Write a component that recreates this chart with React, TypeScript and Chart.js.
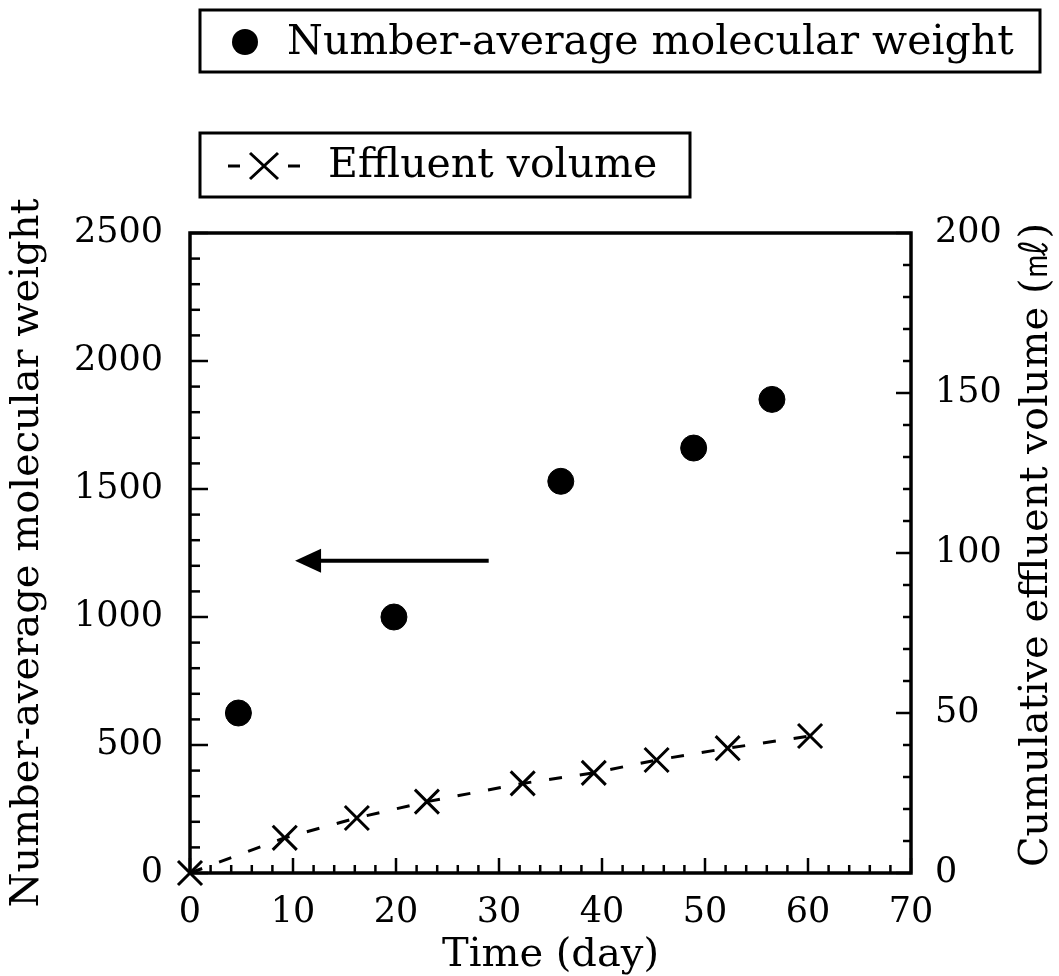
import React, { useEffect, useRef } from "react";
import { Chart, registerables } from "chart.js";

Chart.register(...registerables);

// ---- data ----
const mnTime = [4.7, 19.8, 36.0, 48.9, 56.5];
const mnValues = [625, 1000, 1530, 1660, 1850];
const volTime = [0, 9.2, 16.2, 23.0, 32.3, 39.2, 45.3, 52.2, 60.2];
const volValues = [0, 11, 17.2, 22.3, 28.0, 31.3, 35.3, 39.0, 42.8];

// ---- axes ----
const xRange = [0, 70];
const xMajorStep = 10;
const xMinorStep = 2;
const yRange = [0, 2500];
const yMajorStep = 500;
const yMinorStep = 100;
const y1Range = [0, 200];
const y1MajorStep = 50;
const y1MinorStep = 10;

// ---- text ----
const legendLabels = ["Number-average molecular weight", "Effluent volume"];
const xTitle = "Time (day)";
const yTitle = "Number-average molecular weight";
const y1Title = "Cumulative effluent volume (\u3396)";

// arrow annotation (data coordinates on left axis)
const arrowStart = [29.0, 1220];
const arrowEnd = [10.2, 1220];

const SERIF = '"DejaVu Serif", "Liberation Serif", serif';
const TICK_SIZE = 35;
const TITLE_SIZE = 40;
const LEGEND_SIZE = 41;

const framePlugin = {
  id: "frameTicks",
  beforeDatasetsDraw(chart: any) {
    const { ctx, chartArea: a, scales } = chart;
    const x = scales.x, y = scales.y, y1 = scales.y1;
    ctx.save();
    ctx.strokeStyle = "#000";
    ctx.lineCap = "butt";
    ctx.lineWidth = 2.5;
    for (let v = xRange[0]; v <= xRange[1]; v += xMinorStep) {
      const px = x.getPixelForValue(v);
      const len = v % xMajorStep === 0 ? 15 : 8;
      ctx.beginPath();
      ctx.moveTo(px, a.bottom);
      ctx.lineTo(px, a.bottom - len);
      ctx.stroke();
    }
    for (let v = yRange[0]; v <= yRange[1]; v += yMinorStep) {
      const py = y.getPixelForValue(v);
      const len = v % yMajorStep === 0 ? 18 : 10;
      ctx.beginPath();
      ctx.moveTo(a.left, py);
      ctx.lineTo(a.left + len, py);
      ctx.stroke();
    }
    for (let v = y1Range[0]; v <= y1Range[1]; v += y1MinorStep) {
      const py = y1.getPixelForValue(v);
      const len = v % y1MajorStep === 0 ? 15 : 8;
      ctx.beginPath();
      ctx.moveTo(a.right, py);
      ctx.lineTo(a.right - len, py);
      ctx.stroke();
    }
    ctx.lineWidth = 3.5;
    ctx.strokeRect(a.left, a.top, a.right - a.left, a.bottom - a.top);
    ctx.restore();
  },
  afterDatasetsDraw(chart: any) {
    const { ctx, scales } = chart;
    const x = scales.x, y = scales.y;
    const x0 = x.getPixelForValue(arrowStart[0]);
    const y0 = y.getPixelForValue(arrowStart[1]);
    const x1 = x.getPixelForValue(arrowEnd[0]);
    const y1p = y.getPixelForValue(arrowEnd[1]);
    ctx.save();
    ctx.strokeStyle = "#000";
    ctx.fillStyle = "#000";
    ctx.lineWidth = 4;
    ctx.beginPath();
    ctx.moveTo(x0, y0);
    ctx.lineTo(x1 + 20, y1p);
    ctx.stroke();
    ctx.beginPath();
    ctx.moveTo(x1, y1p);
    ctx.lineTo(x1 + 26, y1p - 12);
    ctx.lineTo(x1 + 26, y1p + 12);
    ctx.closePath();
    ctx.fill();
    ctx.restore();
  },
  afterDraw(chart: any) {
    const { ctx, chartArea: a } = chart;
    ctx.save();
    ctx.fillStyle = "#000";
    ctx.font = `${TITLE_SIZE}px ${SERIF}`;
    ctx.textAlign = "center";
    ctx.textBaseline = "middle";
    ctx.translate(1037, (a.top + a.bottom) / 2 - 8);
    ctx.rotate(-Math.PI / 2);
    ctx.fillText(y1Title, 0, 0);
    ctx.restore();

    ctx.save();
    ctx.strokeStyle = "#000";
    ctx.fillStyle = "#000";
    ctx.lineWidth = 3;
    ctx.strokeRect(200, 10, 840, 62);
    ctx.strokeRect(200, 133, 490, 64);
    ctx.font = `${LEGEND_SIZE}px ${SERIF}`;
    ctx.textAlign = "left";
    ctx.textBaseline = "middle";
    ctx.beginPath();
    ctx.arc(245, 42, 13, 0, Math.PI * 2);
    ctx.fill();
    ctx.fillText(legendLabels[0], 287, 43);
    ctx.lineWidth = 3;
    ctx.beginPath();
    ctx.moveTo(228, 166); ctx.lineTo(240, 166);
    ctx.moveTo(288, 166); ctx.lineTo(300, 166);
    ctx.moveTo(250, 153); ctx.lineTo(278, 179);
    ctx.moveTo(278, 153); ctx.lineTo(250, 179);
    ctx.stroke();
    ctx.fillText(legendLabels[1], 328, 166);
    ctx.restore();
  },
};

export default function App() {
  const ref = useRef<HTMLCanvasElement | null>(null);
  useEffect(() => {
    if (!ref.current) return;
    const chart = new Chart(ref.current, {
      type: "scatter",
      data: {
        datasets: [
          {
            label: legendLabels[0],
            data: mnTime.map((t, i) => ({ x: t, y: mnValues[i] })),
            yAxisID: "y",
            pointStyle: "circle",
            pointRadius: 13,
            pointBackgroundColor: "#000",
            pointBorderColor: "#000",
            showLine: false,
          },
          {
            label: legendLabels[1],
            data: volTime.map((t, i) => ({ x: t, y: volValues[i] })),
            yAxisID: "y1",
            showLine: true,
            borderColor: "#000",
            borderWidth: 3,
            borderDash: [13, 18],
            pointStyle: "crossRot",
            pointRadius: 17,
            pointBorderWidth: 3,
            pointBorderColor: "#000",
            pointBackgroundColor: "#000",
            clip: false as any,
          },
        ],
      },
      options: {
        responsive: false,
        animation: false,
        devicePixelRatio: 1,
        layout: { padding: { top: 233, left: 0, right: 0, bottom: 0 } },
        plugins: { legend: { display: false }, tooltip: { enabled: false } },
        scales: {
          x: {
            type: "linear",
            position: "bottom",
            min: xRange[0],
            max: xRange[1],
            grid: { display: false, drawTicks: false },
            border: { display: false },
            ticks: {
              stepSize: xMajorStep,
              color: "#000",
              padding: 19,
              font: { family: SERIF, size: TICK_SIZE },
              callback: (v: any) => String(v),
            },
            title: {
              display: true,
              text: xTitle,
              color: "#000",
              font: { family: SERIF, size: TITLE_SIZE, lineHeight: 1 },
              padding: { top: 0, bottom: 0 },
            },
            afterFit: (s: any) => { s.height = 103; },
          },
          y: {
            type: "linear",
            position: "left",
            min: yRange[0],
            max: yRange[1],
            grid: { display: false, drawTicks: false },
            border: { display: false },
            ticks: {
              stepSize: yMajorStep,
              color: "#000",
              padding: 27,
              font: { family: SERIF, size: TICK_SIZE },
              callback: (v: any) => String(v),
            },
            title: {
              display: true,
              text: yTitle,
              color: "#000",
              font: { family: SERIF, size: TITLE_SIZE, lineHeight: 1 },
              padding: { top: 8, bottom: 0 },
            },
            afterFit: (s: any) => { s.width = 190; },
          },
          y1: {
            type: "linear",
            position: "right",
            min: y1Range[0],
            max: y1Range[1],
            grid: { display: false, drawTicks: false },
            border: { display: false },
            ticks: {
              stepSize: y1MajorStep,
              color: "#000",
              padding: 24,
              font: { family: SERIF, size: TICK_SIZE },
              callback: (v: any) => String(v),
            },
            afterFit: (s: any) => { s.width = 148; },
          },
        },
      },
      plugins: [framePlugin],
    });
    return () => chart.destroy();
  }, []);
  return (
    <div style={{ position: "absolute", left: 0, top: 0, width: 1059, height: 976, background: "#fff" }}>
      <canvas ref={ref} width={1059} height={976} style={{ display: "block" }} />
    </div>
  );
}
